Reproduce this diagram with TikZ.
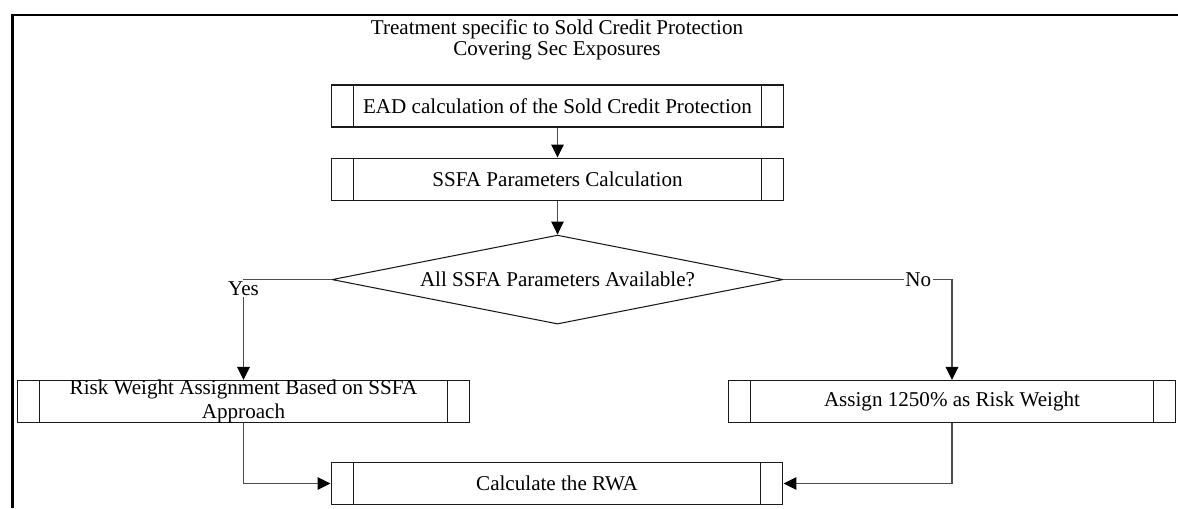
\documentclass[tikz,border=0pt]{standalone}
\usepackage{fontspec}
\setmainfont{Liberation Serif}
\usepackage{xcolor}
\usepackage{tikz}
\usetikzlibrary{arrows.meta,positioning,shapes.geometric}
\definecolor{FrameLine}{HTML}{000000}
\definecolor{BoxEdge}{HTML}{1A1A1A}
\definecolor{LinkGrey}{HTML}{4D4D4D}
\tikzset{
    procbox/.style={
        draw=BoxEdge,
        line width=0.6pt,
        minimum height=0.84cm,
        inner sep=2pt,
        align=center,
        font=\fontsize{12}{14}\selectfont,
        path picture={
            \draw[BoxEdge, line width=0.6pt]
                ([xshift=0.44cm]path picture bounding box.north west) --
                ([xshift=0.44cm]path picture bounding box.south west);
            \draw[BoxEdge, line width=0.6pt]
                ([xshift=-0.44cm]path picture bounding box.north east) --
                ([xshift=-0.44cm]path picture bounding box.south east);
        }
    },
    decision/.style={
        diamond,
        draw=BoxEdge,
        line width=0.6pt,
        shape aspect=5,
        minimum width=9.02cm,
        minimum height=1.78cm,
        inner sep=0pt,
        font=\fontsize{12}{14}\selectfont
    },
    link/.style={
        draw=LinkGrey,
        line width=0.6pt,
        -{Triangle[length=0.26cm, width=0.25cm, color=black]}
    },
    linklabel/.style={fill=white, inner sep=1pt, font=\fontsize{12}{14}\selectfont}
}

\begin{document}
\begin{tikzpicture}[x=0.02cm, y=-0.02cm, node distance=0.6cm]
        \useasboundingbox (0,0) rectangle (1178,508);
        \draw[FrameLine, line width=1.7pt] (12.5,508) -- (12.5,15) -- (1178,15);

        \node[align=center, font=\fontsize{12}{12}\selectfont] (title) at (557,40)
            {Treatment specific to Sold Credit Protection\\Covering Sec Exposures};

        \node[procbox, minimum width=9.06cm] (ead) at (557.5,106) {EAD calculation of the Sold Credit Protection};
        \node[procbox, minimum width=9.06cm, below=0.6cm of ead] (ssfa) {SSFA Parameters Calculation};
        \node[decision, below=0.68cm of ssfa] (avail) {All SSFA Parameters Available?};

        \node[procbox, minimum width=9.06cm, inner ysep=-0.6pt] (risk) at (243.5,401.5) {Risk Weight Assignment Based on SSFA\\Approach};
        \node[procbox, minimum width=8.96cm] (assign) at (952,401.5) {Assign 1250\% as Risk Weight};
        \node[procbox, minimum width=9.04cm] (rwa) at (557,483.5) {Calculate the RWA};

        \draw[link] (ead) -- (ssfa);
        \draw[link] (ssfa) -- (avail);
        \draw[link] (avail.west) -| node[linklabel, pos=0.5, yshift=-0.18cm] {Yes} (risk.north);
        \draw[link] (avail.east) -| node[linklabel, pos=0.4] {No} (assign.north);
        \draw[link] (risk.south) |- (rwa.west);
        \draw[link] (assign.south) |- (rwa.east);
    \end{tikzpicture}
\end{document}
